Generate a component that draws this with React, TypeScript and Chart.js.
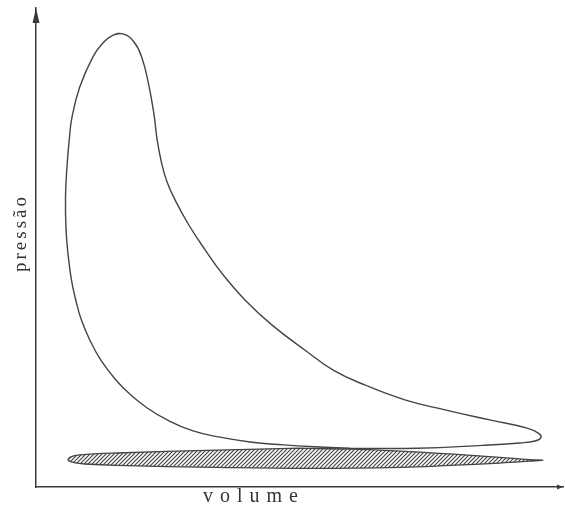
import React, { useEffect, useRef } from "react";
import { Chart, registerables } from "chart.js";

Chart.register(...registerables);

// Indicator (P-V) diagram, arbitrary units 0..100 on both axes
const cycleVolume = [
  59.6, 72.3, 84.8, 91.8, 94.7, 95.8, 95.4, 93.2, 86.1, 77.6, 70.0, 62.4, 56.4,
  51.0, 44.8, 39.7, 35.5, 32.1, 29.0, 26.4, 24.8, 23.8, 23.0, 22.4, 21.4, 20.1,
  18.6, 16.5, 14.4, 12.7, 10.8, 8.3, 6.8, 6.3, 5.9, 5.6, 5.7, 6.1, 6.7, 7.5, 8.6,
  10.2, 12.3, 15.2, 18.0, 21.1, 24.9, 29.8, 34.9, 40.6, 46.9, 52.9, 59.6,
];
const cyclePressure = [
  8.1, 8.1, 8.7, 9.2, 9.6, 10.3, 11.2, 12.3, 14.0, 16.1, 18.2, 21.3, 24.4, 28.6,
  33.8, 39.0, 44.3, 49.5, 54.7, 59.9, 63.9, 67.8, 72.4, 77.7, 83.9, 89.6, 92.9,
  94.6, 94.2, 92.7, 89.8, 83.5, 77.0, 72.4, 67.2, 60.5, 53.7, 48.4, 43.4, 39.2,
  34.9, 30.7, 26.5, 22.3, 19.2, 16.5, 14.0, 11.7, 10.4, 9.4, 8.8, 8.4, 8.1,
];

const pumpVolume = [
  50.1, 59.6, 69.1, 78.6, 88.0, 93.7, 96.2, 93.7, 88.0, 78.6, 69.1, 52.0, 34.3,
  15.4, 9.3, 7.2, 6.1, 6.6, 8.3, 15.4, 34.3, 50.1,
];
const pumpPressure = [
  8.1, 7.9, 7.5, 6.9, 6.2, 5.7, 5.6, 5.4, 5.0, 4.5, 4.1, 3.9, 4.1, 4.5, 4.8, 5.1,
  5.6, 6.3, 6.7, 7.1, 7.7, 8.1,
];

const axisMin = 0;
const axisMax = 100;
const xLabel = "volume";
const yLabel = "pressão";

function makeHatch(): CanvasPattern | string {
  const s = 4;
  const c = document.createElement("canvas");
  c.width = s;
  c.height = s;
  const g = c.getContext("2d");
  if (!g) return "#888";
  g.fillStyle = "#ffffff";
  g.fillRect(0, 0, s, s);
  g.strokeStyle = "#444444";
  g.lineWidth = 1.2;
  g.beginPath();
  g.moveTo(0, s);
  g.lineTo(s, 0);
  g.moveTo(-1, 1);
  g.lineTo(1, -1);
  g.moveTo(s - 1, s + 1);
  g.lineTo(s + 1, s - 1);
  g.stroke();
  const p = g.createPattern(c, "repeat");
  return p || "#888";
}

const decorPlugin = {
  id: "decor",
  afterDraw(chart: any) {
    const { ctx, chartArea } = chart;
    const { left, top, right, bottom } = chartArea;
    ctx.save();
    ctx.fillStyle = "#3a3a3a";
    // y arrow head
    ctx.beginPath();
    ctx.moveTo(left, top);
    ctx.lineTo(left - 3.5, top + 15);
    ctx.lineTo(left + 3.5, top + 15);
    ctx.closePath();
    ctx.fill();
    // x end mark
    ctx.beginPath();
    ctx.moveTo(right, bottom);
    ctx.lineTo(right - 6, bottom - 2.5);
    ctx.lineTo(right - 6, bottom + 2.5);
    ctx.closePath();
    ctx.fill();

    ctx.fillStyle = "#333333";
    ctx.font = '20px "Liberation Serif", "DejaVu Serif", serif';
    (ctx as any).letterSpacing = "7px";
    ctx.textAlign = "left";
    ctx.textBaseline = "alphabetic";
    ctx.fillText(xLabel, 203, 502);

    ctx.font = '19px "Liberation Serif", "DejaVu Serif", serif';
    (ctx as any).letterSpacing = "3px";
    ctx.translate(26, 233);
    ctx.rotate(-Math.PI / 2);
    ctx.textAlign = "center";
    ctx.fillText(yLabel, 0, 0);
    ctx.restore();
  },
};

export default function App() {
  const ref = useRef<HTMLCanvasElement | null>(null);
  useEffect(() => {
    if (!ref.current) return;
    const hatch = makeHatch();
    const chart = new Chart(ref.current, {
      type: "scatter",
      data: {
        datasets: [
          {
            data: pumpVolume.map((v, i) => ({ x: v, y: pumpPressure[i] })),
            showLine: true,
            fill: "shape",
            backgroundColor: hatch as any,
            borderColor: "#444444",
            borderWidth: 1.3,
            pointRadius: 0,
            tension: 0.4,
          },
          {
            data: cycleVolume.map((v, i) => ({ x: v, y: cyclePressure[i] })),
            showLine: true,
            fill: false,
            borderColor: "#444444",
            borderWidth: 1.4,
            pointRadius: 0,
            tension: 0.45,
          },
        ],
      },
      options: {
        animation: false,
        responsive: false,
        devicePixelRatio: 1,
        layout: { padding: { left: 36, top: 8, right: 2, bottom: 26 } },
        plugins: { legend: { display: false }, tooltip: { enabled: false } },
        scales: {
          x: {
            type: "linear",
            min: axisMin,
            max: axisMax,
            ticks: { display: false },
            grid: { display: false, drawTicks: false },
            border: { display: true, color: "#3a3a3a", width: 1.5 },
          },
          y: {
            type: "linear",
            min: axisMin,
            max: axisMax,
            ticks: { display: false },
            grid: { display: false, drawTicks: false },
            border: { display: true, color: "#3a3a3a", width: 1.5 },
          },
        },
      },
      plugins: [decorPlugin],
    });
    return () => chart.destroy();
  }, []);
  return (
    <canvas
      ref={ref}
      width={565}
      height={513}
      style={{ display: "block", position: "fixed", left: 0, top: 0, background: "#fff" }}
    />
  );
}
